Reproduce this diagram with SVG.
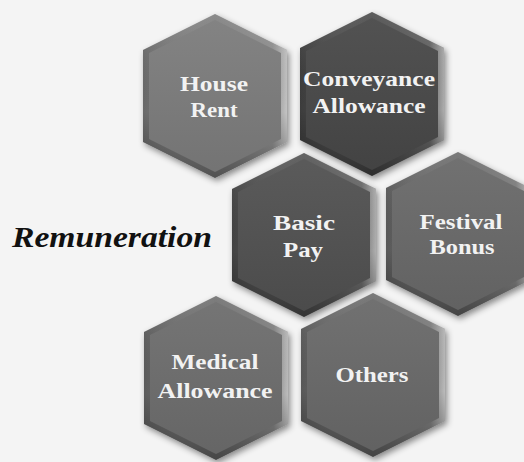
<svg xmlns="http://www.w3.org/2000/svg" xmlns:xlink="http://www.w3.org/1999/xlink" width="524" height="462" viewBox="0 0 524 462">
  <style>
    .lbl { font-family: "Liberation Serif", "Times New Roman", serif; font-weight: bold; font-size: 22px; fill: #f2f2f2; text-anchor: middle; }
    .title { font-family: "Liberation Serif", "Times New Roman", serif; font-weight: bold; font-style: italic; font-size: 29px; fill: #111; }
    .t1 { fill: #7b7b7b; }
    .t2 { fill: #474747; }
    .t3 { fill: #505050; }
    .t4 { fill: #686868; }
    .t5 { fill: #6c6c6c; }
  </style>
  <defs>
    <polygon id="hexO" points="0,-82 72,-46 72,46 0,82 -72,46 -72,-46"/>
    <polygon id="hexI" points="0,-76 66,-43 66,43 0,76 -66,43 -66,-43"/>
    <linearGradient id="shineR" x1="0" y1="0" x2="1" y2="0">
      <stop offset="0" stop-color="#000" stop-opacity="0.15"/>
      <stop offset="0.5" stop-color="#fff" stop-opacity="0"/>
      <stop offset="0.9" stop-color="#fff" stop-opacity="0.15"/>
      <stop offset="1" stop-color="#fff" stop-opacity="0.55"/>
    </linearGradient>
    <linearGradient id="shadeB" x1="0" y1="0" x2="0" y2="1">
      <stop offset="0" stop-color="#fff" stop-opacity="0.12"/>
      <stop offset="0.6" stop-color="#000" stop-opacity="0"/>
      <stop offset="1" stop-color="#000" stop-opacity="0.35"/>
    </linearGradient>
    <linearGradient id="faceG" x1="0" y1="0" x2="0" y2="1">
      <stop offset="0" stop-color="#fff" stop-opacity="0.06"/>
      <stop offset="1" stop-color="#000" stop-opacity="0.06"/>
    </linearGradient>
    <filter id="shadow" x="-20%" y="-20%" width="140%" height="140%">
      <feDropShadow dx="2" dy="3" stdDeviation="3" flood-color="#000" flood-opacity="0.45"/>
    </filter>
  </defs>
  <rect width="524" height="462" fill="#f4f4f4"/>

  <g id="connectors"/>

  <g id="title">
    <text class="title" x="12" y="247" textLength="200" lengthAdjust="spacingAndGlyphs">Remuneration</text>
  </g>

  <g id="house-rent" transform="translate(215,96)">
    <use href="#hexO" class="t1" filter="url(#shadow)"/>
    <use href="#hexO" fill="url(#shineR)"/>
    <use href="#hexO" fill="url(#shadeB)"/>
    <use href="#hexI" class="t1"/>
    <use href="#hexI" fill="url(#faceG)"/>
    <text class="lbl" x="-1" y="-5" textLength="68" lengthAdjust="spacingAndGlyphs">House</text>
    <text class="lbl" x="-1" y="21" textLength="47" lengthAdjust="spacingAndGlyphs">Rent</text>
  </g>

  <g id="conveyance-allowance" transform="translate(372,94)">
    <use href="#hexO" class="t2" filter="url(#shadow)"/>
    <use href="#hexO" fill="url(#shineR)"/>
    <use href="#hexO" fill="url(#shadeB)"/>
    <use href="#hexI" class="t2"/>
    <use href="#hexI" fill="url(#faceG)"/>
    <text class="lbl" x="-3" y="-8" textLength="132" lengthAdjust="spacingAndGlyphs">Conveyance</text>
    <text class="lbl" x="-3" y="19" textLength="113" lengthAdjust="spacingAndGlyphs">Allowance</text>
  </g>

  <g id="basic-pay" transform="translate(304,235)">
    <use href="#hexO" class="t3" filter="url(#shadow)"/>
    <use href="#hexO" fill="url(#shineR)"/>
    <use href="#hexO" fill="url(#shadeB)"/>
    <use href="#hexI" class="t3"/>
    <use href="#hexI" fill="url(#faceG)"/>
    <text class="lbl" x="0" y="-5" textLength="62" lengthAdjust="spacingAndGlyphs">Basic</text>
    <text class="lbl" x="-1" y="22" textLength="40" lengthAdjust="spacingAndGlyphs">Pay</text>
  </g>

  <g id="festival-bonus" transform="translate(458,234)">
    <use href="#hexO" class="t4" filter="url(#shadow)"/>
    <use href="#hexO" fill="url(#shineR)"/>
    <use href="#hexO" fill="url(#shadeB)"/>
    <use href="#hexI" class="t4"/>
    <use href="#hexI" fill="url(#faceG)"/>
    <text class="lbl" x="3" y="-5" textLength="83" lengthAdjust="spacingAndGlyphs">Festival</text>
    <text class="lbl" x="4" y="20" textLength="65" lengthAdjust="spacingAndGlyphs">Bonus</text>
  </g>

  <g id="medical-allowance" transform="translate(216,378)">
    <use href="#hexO" class="t5" filter="url(#shadow)"/>
    <use href="#hexO" fill="url(#shineR)"/>
    <use href="#hexO" fill="url(#shadeB)"/>
    <use href="#hexI" class="t5"/>
    <use href="#hexI" fill="url(#faceG)"/>
    <text class="lbl" x="-1" y="-9" textLength="87" lengthAdjust="spacingAndGlyphs">Medical</text>
    <text class="lbl" x="-1" y="20" textLength="115" lengthAdjust="spacingAndGlyphs">Allowance</text>
  </g>

  <g id="others" transform="translate(373,375)">
    <use href="#hexO" class="t4" filter="url(#shadow)"/>
    <use href="#hexO" fill="url(#shineR)"/>
    <use href="#hexO" fill="url(#shadeB)"/>
    <use href="#hexI" class="t4"/>
    <use href="#hexI" fill="url(#faceG)"/>
    <text class="lbl" x="-1" y="7" textLength="73" lengthAdjust="spacingAndGlyphs">Others</text>
  </g>
</svg>
